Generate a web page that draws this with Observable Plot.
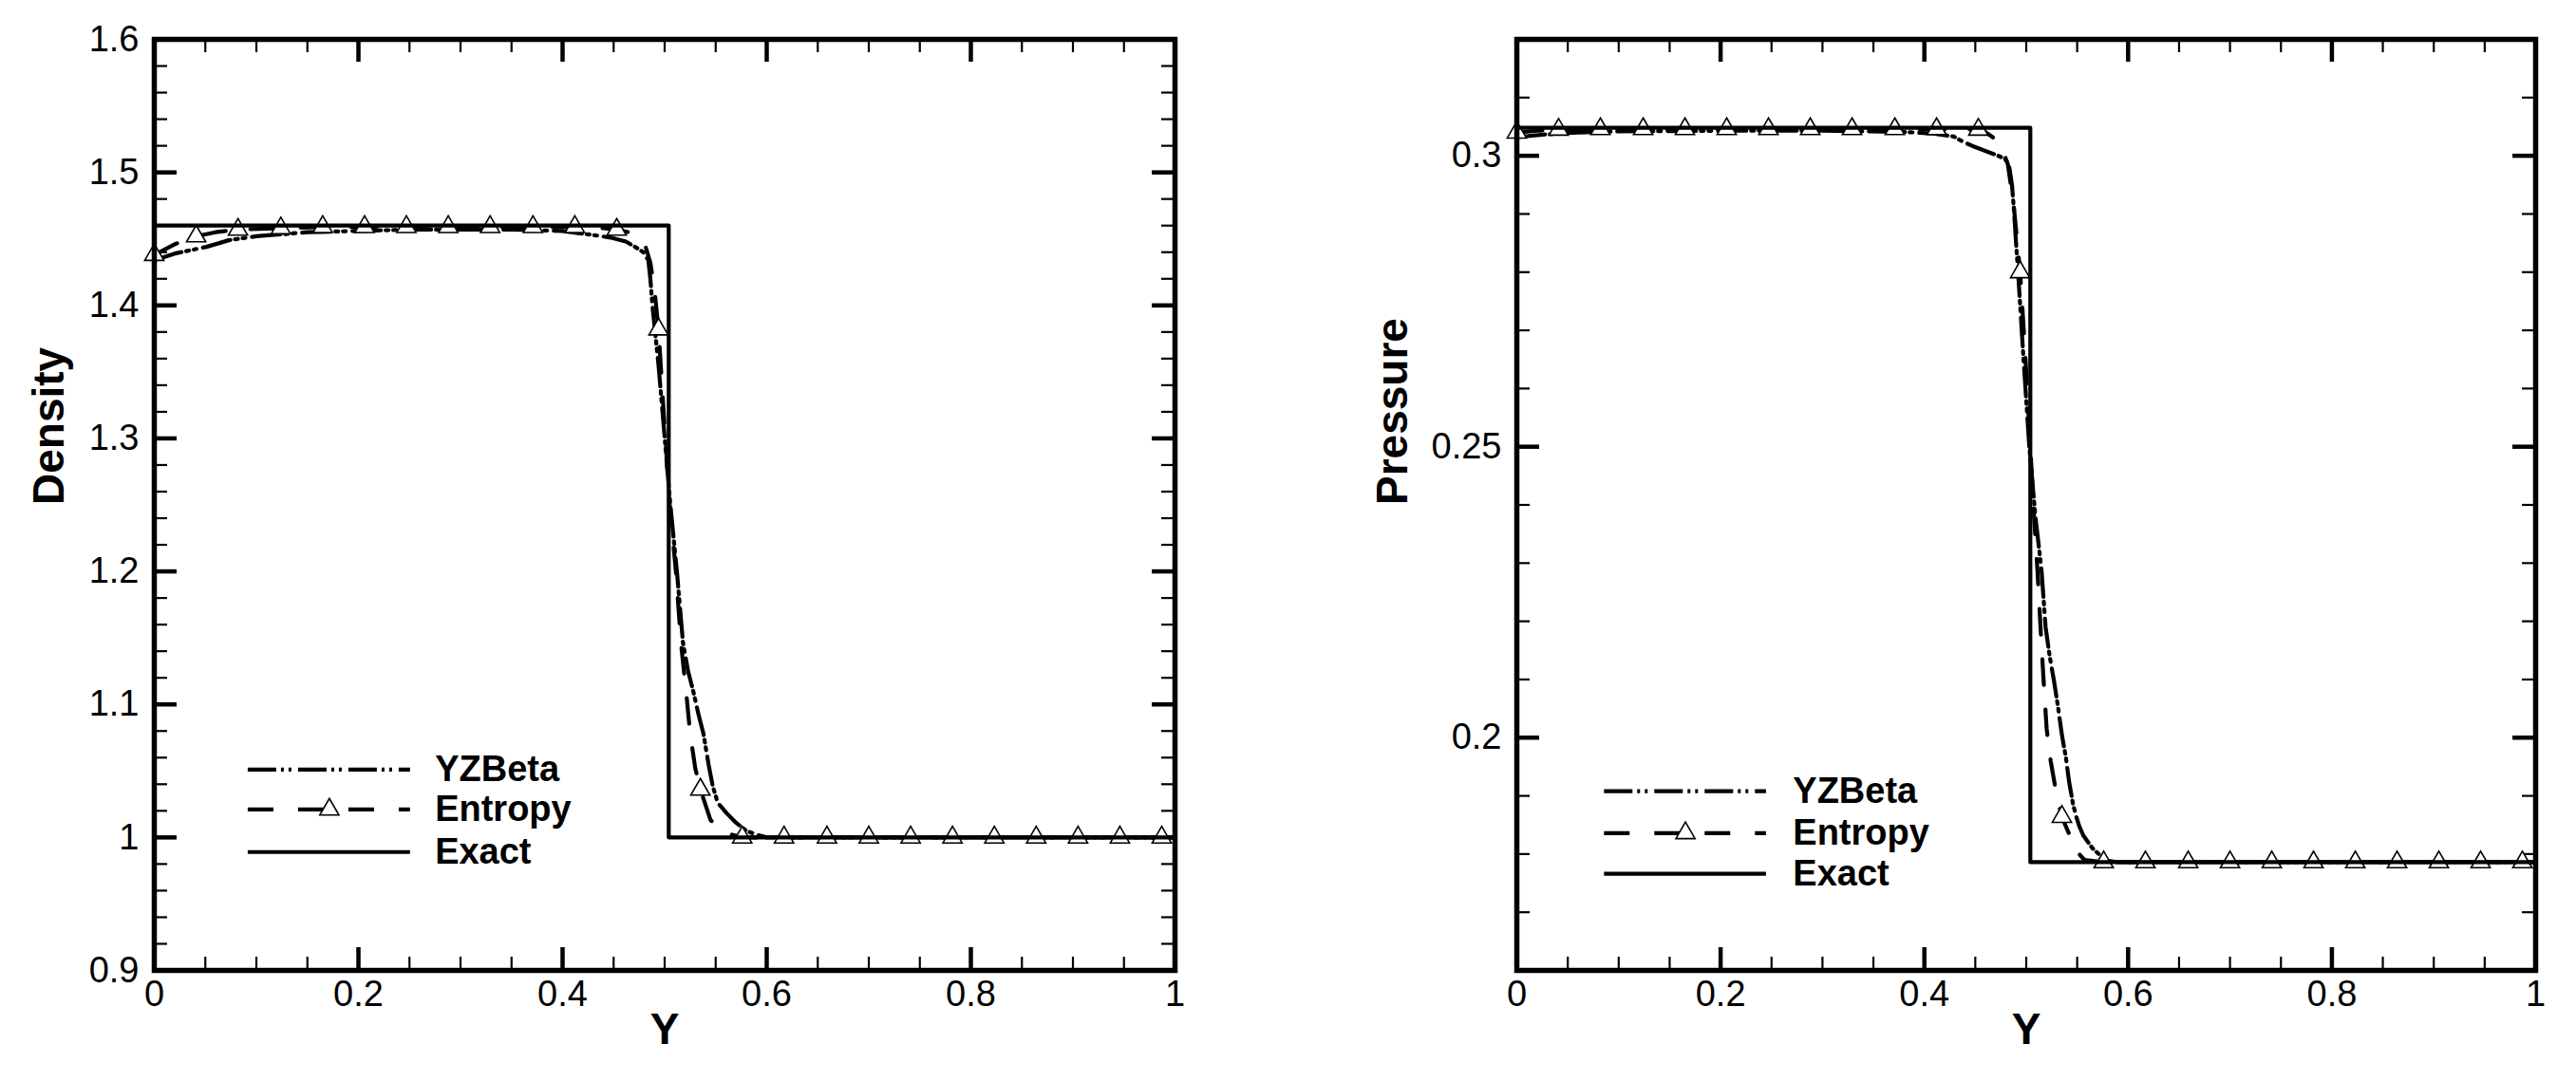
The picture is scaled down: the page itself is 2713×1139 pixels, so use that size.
<!DOCTYPE html>
<html><head><meta charset="utf-8">
<script src="https://cdn.jsdelivr.net/npm/d3@7"></script>
<script src="https://cdn.jsdelivr.net/npm/@observablehq/plot@0.6"></script>
<style>
html,body{margin:0;padding:0;background:#fff;}
#wrap{position:relative;width:2713px;height:1139px;background:#fff;overflow:hidden;}
#wrap svg{position:absolute;top:0;}
</style></head><body><div id="wrap"></div>
<script>
// ---------- tick labels ----------
const xTicks = [0, 0.2, 0.4, 0.6, 0.8, 1];
const densityTicks = [0.9, 1, 1.1, 1.2, 1.3, 1.4, 1.5, 1.6];
const pressureTicks = [0.2, 0.25, 0.3];
const seriesNames = ["YZBeta", "Entropy", "Exact"];

// ---------- Entropy markers (triangles) ----------
const markerX = [0, 0.041, 0.082, 0.124, 0.165, 0.206, 0.247, 0.288, 0.329, 0.371, 0.412, 0.453, 0.494,
  0.535, 0.576, 0.617, 0.659, 0.700, 0.741, 0.782, 0.823, 0.864, 0.905, 0.946, 0.987];
const densityMarkers = [1.438, 1.452, 1.457, 1.458, 1.459, 1.459, 1.459, 1.459, 1.459, 1.459, 1.459, 1.457, 1.382,
  1.036, 1.000, 1, 1, 1, 1, 1, 1, 1, 1, 1, 1];
const pressureMarkers = [0.3040, 0.3045, 0.3046, 0.3046, 0.3046, 0.3046, 0.3046, 0.3046, 0.3046, 0.3046, 0.3046, 0.3045, 0.280,
  0.1864, 0.1786, 0.1786, 0.1786, 0.1786, 0.1786, 0.1786, 0.1786, 0.1786, 0.1786, 0.1786, 0.1786];

// ---------- Density ----------
const densityEntropyX = [0, 0.02, 0.041, 0.06, 0.082, 0.124, 0.165, 0.206, 0.247, 0.288, 0.329, 0.371, 0.412, 0.44, 0.453,
  0.465, 0.474, 0.481, 0.486, 0.490, 0.494, 0.499, 0.505, 0.511, 0.516, 0.521, 0.525, 0.530, 0.535, 0.545, 0.556, 0.566,
  0.576, 0.617, 0.700, 0.800, 0.900, 1.0];
const densityEntropyY = [1.438, 1.446, 1.452, 1.455, 1.457, 1.458, 1.459, 1.459, 1.459, 1.459, 1.459, 1.459, 1.459, 1.458, 1.457,
  1.455, 1.451, 1.445, 1.432, 1.412, 1.382, 1.320, 1.250, 1.200, 1.146, 1.110, 1.078, 1.052, 1.036, 1.013, 1.006, 1.002,
  1.000, 1.000, 1.000, 1.000, 1.000, 1.000];
const densityYZBetaX = [0, 0.02, 0.051, 0.073, 0.1, 0.15, 0.2, 0.25, 0.3, 0.35, 0.4, 0.429, 0.447, 0.462, 0.471, 0.479,
  0.484, 0.486, 0.488, 0.490, 0.494, 0.499, 0.505, 0.512, 0.518, 0.523, 0.528, 0.533, 0.538, 0.543, 0.547, 0.552, 0.561,
  0.570, 0.580, 0.590, 0.600, 0.700, 0.800, 0.900, 1.0];
const densityYZBetaY = [1.434, 1.439, 1.444, 1.449, 1.452, 1.455, 1.456, 1.457, 1.457, 1.457, 1.456, 1.453, 1.451, 1.448, 1.444, 1.440,
  1.434, 1.420, 1.400, 1.385, 1.355, 1.310, 1.255, 1.200, 1.146, 1.125, 1.110, 1.093, 1.078, 1.055, 1.039, 1.026, 1.018,
  1.011, 1.005, 1.002, 1.000, 1.000, 1.000, 1.000, 1.000];
const densityExactX = [0, 0.504, 0.504, 1];
const densityExactY = [1.46, 1.46, 1.0, 1.0];

// ---------- Pressure ----------
const pressureEntropyX = [0, 0.02, 0.041, 0.082, 0.124, 0.2, 0.3, 0.412, 0.453, 0.459, 0.467, 0.475, 0.482, 0.488,
  0.494, 0.499, 0.504, 0.508, 0.511, 0.514, 0.517, 0.520, 0.524, 0.528, 0.532, 0.535, 0.540, 0.550, 0.557, 0.576,
  0.700, 0.800, 0.900, 1.0];
const pressureEntropyY = [0.3040, 0.3043, 0.3045, 0.3046, 0.3046, 0.3046, 0.3046, 0.3046, 0.3045, 0.3042, 0.3032, 0.3019, 0.2985, 0.2910,
  0.2800, 0.2660, 0.2500, 0.2370, 0.2288, 0.2190, 0.2100, 0.2016, 0.1960, 0.1920, 0.1885, 0.1864, 0.1843, 0.1804, 0.1790, 0.1786,
  0.1786, 0.1786, 0.1786, 0.1786];
const pressureYZBetaX = [0, 0.03, 0.06, 0.1, 0.2, 0.3, 0.38, 0.41, 0.429, 0.438, 0.447, 0.471, 0.479, 0.483, 0.486, 0.488,
  0.490, 0.492, 0.497, 0.503, 0.509, 0.515, 0.519, 0.523, 0.527, 0.531, 0.535, 0.539, 0.542, 0.546, 0.549, 0.552, 0.556,
  0.565, 0.578, 0.590, 0.700, 0.800, 0.900, 1.0];
const pressureYZBetaY = [0.3032, 0.3037, 0.3040, 0.3042, 0.3043, 0.3043, 0.3041, 0.3038, 0.3033, 0.3024, 0.3017, 0.3001, 0.2995, 0.2985, 0.2950, 0.2905,
  0.2850, 0.2800, 0.2660, 0.2500, 0.2380, 0.2288, 0.2190, 0.2140, 0.2100, 0.2055, 0.2005, 0.1965, 0.1925, 0.1885, 0.1865, 0.1848, 0.1832,
  0.1810, 0.1789, 0.1786, 0.1786, 0.1786, 0.1786, 0.1786];
const pressureExactX = [0, 0.504, 0.504, 1];
const pressureExactY = [0.3048, 0.3048, 0.1786, 0.1786];

// ---------- helpers ----------
const zip = (X, Y) => X.map((x, i) => ({x, y: Y[i]}));
const fmt = d3.format("~g");
const FONT = "'Liberation Sans', Arial, Helvetica, sans-serif";
const dashYZ = "30,5,3,5,3,7";
const dashEn = "27,26";
const LW = 4.2;

function panel(cfg) {
  const H = 1139;
  const [y0, y1] = cfg.yDomain;
  const pw = cfg.width - cfg.ml - cfg.mr, ph = H - cfg.mt - cfg.mb;
  const kx = 1 / pw, ky = (y1 - y0) / ph;
  const MAJ = 24, MIN = 14;
  const isMajor = (v, T) => T.some(t => Math.abs(t - v) < 1e-9);
  const xMinor = d3.range(0, 21).map(i => +(i * 0.05).toFixed(4)).filter(v => !isMajor(v, xTicks));
  const nY = Math.round((y1 - y0) / cfg.yMinorStep);
  const yMinor = d3.range(0, nY + 1).map(i => +(y0 + i * cfg.yMinorStep).toFixed(4)).filter(v => !isMajor(v, cfg.yTicks));
  const lg = cfg.legend;
  const lineStyles = [
    {strokeDasharray: dashYZ},
    {strokeDasharray: dashEn},
    {}
  ];
  const marks = [
    // inward ticks: bottom & top
    Plot.ruleX(xTicks, {x: d => d, y1: () => y0, y2: () => y0 + MAJ * ky, strokeWidth: 4.5}),
    Plot.ruleX(xTicks, {x: d => d, y1: () => y1, y2: () => y1 - MAJ * ky, strokeWidth: 4.5}),
    Plot.ruleX(xMinor, {x: d => d, y1: () => y0, y2: () => y0 + MIN * ky, strokeWidth: 2.2}),
    Plot.ruleX(xMinor, {x: d => d, y1: () => y1, y2: () => y1 - MIN * ky, strokeWidth: 2.2}),
    // inward ticks: left & right
    Plot.ruleY(cfg.yTicks, {y: d => d, x1: () => 0, x2: () => MAJ * kx, strokeWidth: 4.5}),
    Plot.ruleY(cfg.yTicks, {y: d => d, x1: () => 1, x2: () => 1 - MAJ * kx, strokeWidth: 4.5}),
    Plot.ruleY(yMinor, {y: d => d, x1: () => 0, x2: () => MIN * kx, strokeWidth: 2.2}),
    Plot.ruleY(yMinor, {y: d => d, x1: () => 1, x2: () => 1 - MIN * kx, strokeWidth: 2.2}),
    // data lines
    Plot.line(zip(cfg.yzX, cfg.yzY), {x: "x", y: "y", stroke: "black", strokeWidth: LW, strokeDasharray: dashYZ}),
    Plot.line(zip(cfg.enX, cfg.enY), {x: "x", y: "y", stroke: "black", strokeWidth: LW, strokeDasharray: dashEn}),
    Plot.dot(zip(markerX, cfg.markers), {x: "x", y: "y", symbol: "triangle", r: 7.5, fill: "white", stroke: "black", strokeWidth: 1.6}),
    Plot.line(zip(cfg.exX, cfg.exY), {x: "x", y: "y", stroke: "black", strokeWidth: LW}),
    // legend
    ...seriesNames.map((s, i) => Plot.ruleY([lg.y[i]], {y: d => d, x1: () => lg.x1, x2: () => lg.x2, stroke: "black", strokeWidth: LW, ...lineStyles[i]})),
    Plot.dot([lg.y[1]], {x: () => (lg.x1 + lg.x2) / 2, y: d => d, symbol: "triangle", r: 7.5, fill: "white", stroke: "black", strokeWidth: 1.6}),
    Plot.text(seriesNames, {x: () => lg.xText, y: (d, i) => lg.y[i], text: d => d, textAnchor: "start", fontWeight: "bold", fontSize: 38}),
    // frame
    Plot.frame({stroke: "black", strokeWidth: 5.5}),
    // axis titles
    Plot.text([cfg.yLabel], {text: d => d, frameAnchor: "left", dx: cfg.yLabelDx, rotate: -90, fontSize: 46, fontWeight: "bold"}),
    Plot.text(["Y"], {text: d => d, frameAnchor: "bottom", dy: 77, fontSize: 46, fontWeight: "bold"})
  ];
  return Plot.plot({
    width: cfg.width, height: H,
    marginLeft: cfg.ml, marginRight: cfg.mr, marginTop: cfg.mt, marginBottom: cfg.mb,
    x: {domain: [0, 1], ticks: xTicks, tickSize: 0, tickPadding: 11, tickFormat: fmt, label: null},
    y: {domain: cfg.yDomain, ticks: cfg.yTicks, tickSize: 0, tickPadding: 16, tickFormat: fmt, label: null},
    style: {fontSize: "38px", fontFamily: FONT, color: "black", background: "white", overflow: "visible"},
    marks
  });
}

const left = panel({
  width: 1356, ml: 162, mr: 119, mt: 41, mb: 117,
  yDomain: [0.9, 1.6], yTicks: densityTicks, yMinorStep: 0.02,
  yzX: densityYZBetaX, yzY: densityYZBetaY, enX: densityEntropyX, enY: densityEntropyY,
  exX: densityExactX, exY: densityExactY, markers: densityMarkers,
  yLabel: "Density", yLabelDx: -110,
  legend: {x1: 0.092, x2: 0.251, xText: 0.275, y: [1.051, 1.021, 0.989]}
});
const right = panel({
  width: 1357, ml: 241, mr: 43, mt: 41, mb: 117,
  yDomain: [0.16, 0.32], yTicks: pressureTicks, yMinorStep: 0.01,
  yzX: pressureYZBetaX, yzY: pressureYZBetaY, enX: pressureEntropyX, enY: pressureEntropyY,
  exX: pressureExactX, exY: pressureExactY, markers: pressureMarkers,
  yLabel: "Pressure", yLabelDx: -130,
  legend: {x1: 0.086, x2: 0.245, xText: 0.271, y: [0.1908, 0.1836, 0.1766]}
});
left.style.left = "0px";
right.style.left = "1356px";
const wrap = document.getElementById("wrap");
wrap.appendChild(left);
wrap.appendChild(right);
</script>
</body></html>
